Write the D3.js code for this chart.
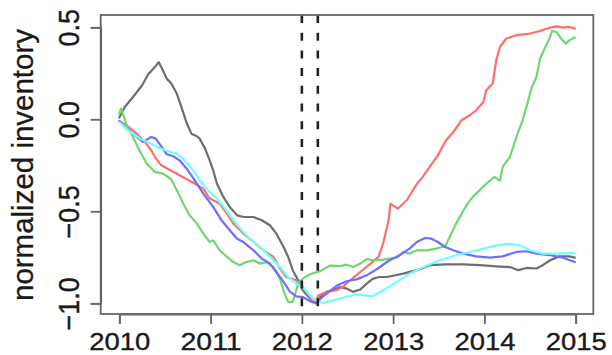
<!DOCTYPE html>
<html><head><meta charset="utf-8">
<script src="https://cdn.jsdelivr.net/npm/d3@7/dist/d3.min.js"></script>
<style>html,body{margin:0;padding:0;background:#fff;}svg{display:block;}</style>
</head><body>
<svg id="chart" width="612" height="355"></svg>
<script>
// ---- data ----
const xTicks = [2010, 2011, 2012, 2013, 2014, 2015];
const yTicks = [-1.0, -0.5, 0.0, 0.5];
const yTickLabels = ["\u22121.0", "\u22120.5", "0.0", "0.5"];
const yLabel = "normalized inventory";
const vLines = [2012.0, 2012.175];

const seriesBlack = [[2010.00,0.01],[2010.06,0.067],[2010.15,0.121],[2010.25,0.185],[2010.32,0.248],[2010.35,0.262],[2010.39,0.284],[2010.43,0.311],[2010.46,0.284],[2010.52,0.221],[2010.57,0.194],[2010.63,0.14],[2010.68,0.067],[2010.74,-0.023],[2010.79,-0.078],[2010.85,-0.092],[2010.88,-0.105],[2010.94,-0.159],[2010.99,-0.223],[2011.03,-0.28],[2011.07,-0.35],[2011.14,-0.422],[2011.21,-0.477],[2011.29,-0.522],[2011.36,-0.531],[2011.47,-0.531],[2011.56,-0.549],[2011.65,-0.576],[2011.72,-0.621],[2011.80,-0.694],[2011.85,-0.748],[2011.90,-0.82],[2011.96,-0.875],[2012.01,-0.929],[2012.09,-0.974],[2012.15,-1.0],[2012.20,-0.966],[2012.27,-0.938],[2012.34,-0.929],[2012.42,-0.911],[2012.49,-0.92],[2012.56,-0.938],[2012.64,-0.925],[2012.71,-0.893],[2012.78,-0.866],[2012.85,-0.857],[2012.93,-0.857],[2013.11,-0.839],[2013.26,-0.82],[2013.40,-0.793],[2013.58,-0.788],[2013.77,-0.788],[2013.95,-0.793],[2014.13,-0.799],[2014.28,-0.803],[2014.37,-0.82],[2014.46,-0.808],[2014.57,-0.811],[2014.64,-0.793],[2014.72,-0.766],[2014.82,-0.745],[2014.93,-0.745],[2014.99,-0.752]];

const seriesRed = [[2010.00,-0.009],[2010.08,-0.033],[2010.17,-0.069],[2010.28,-0.123],[2010.35,-0.168],[2010.39,-0.205],[2010.46,-0.25],[2010.56,-0.277],[2010.66,-0.304],[2010.81,-0.345],[2010.92,-0.377],[2010.99,-0.431],[2011.10,-0.458],[2011.18,-0.513],[2011.25,-0.567],[2011.36,-0.621],[2011.47,-0.667],[2011.58,-0.712],[2011.69,-0.748],[2011.76,-0.811],[2011.83,-0.857],[2011.94,-0.875],[2012.01,-0.911],[2012.09,-0.966],[2012.14,-0.998],[2012.18,-0.957],[2012.27,-0.938],[2012.38,-0.929],[2012.45,-0.91],[2012.53,-0.875],[2012.64,-0.83],[2012.74,-0.79],[2012.84,-0.748],[2012.89,-0.676],[2012.95,-0.549],[2012.97,-0.458],[2013.05,-0.486],[2013.15,-0.44],[2013.26,-0.35],[2013.31,-0.322],[2013.40,-0.259],[2013.49,-0.196],[2013.58,-0.114],[2013.66,-0.069],[2013.75,-0.005],[2013.84,0.022],[2013.91,0.049],[2013.99,0.094],[2014.02,0.158],[2014.09,0.194],[2014.13,0.321],[2014.17,0.393],[2014.24,0.439],[2014.35,0.457],[2014.50,0.466],[2014.61,0.48],[2014.72,0.498],[2014.79,0.505],[2014.86,0.498],[2014.93,0.502],[2014.99,0.493]];

const seriesGreen = [[2010.00,0.031],[2010.02,0.058],[2010.04,0.031],[2010.08,-0.033],[2010.15,-0.096],[2010.23,-0.178],[2010.30,-0.241],[2010.39,-0.286],[2010.48,-0.295],[2010.57,-0.327],[2010.65,-0.404],[2010.70,-0.458],[2010.77,-0.522],[2010.85,-0.567],[2010.92,-0.621],[2010.99,-0.667],[2011.03,-0.658],[2011.10,-0.712],[2011.18,-0.748],[2011.25,-0.776],[2011.32,-0.793],[2011.39,-0.776],[2011.47,-0.766],[2011.54,-0.784],[2011.61,-0.776],[2011.69,-0.803],[2011.76,-0.866],[2011.81,-0.947],[2011.85,-0.993],[2011.90,-0.993],[2011.96,-0.893],[2012.01,-0.866],[2012.09,-0.842],[2012.20,-0.825],[2012.31,-0.795],[2012.42,-0.798],[2012.49,-0.79],[2012.56,-0.803],[2012.64,-0.784],[2012.71,-0.76],[2012.78,-0.766],[2012.89,-0.763],[2013.04,-0.752],[2013.11,-0.721],[2013.18,-0.73],[2013.26,-0.712],[2013.37,-0.712],[2013.47,-0.703],[2013.57,-0.69],[2013.62,-0.64],[2013.69,-0.567],[2013.77,-0.495],[2013.84,-0.44],[2013.91,-0.404],[2014.02,-0.35],[2014.11,-0.313],[2014.17,-0.335],[2014.20,-0.259],[2014.28,-0.205],[2014.35,-0.096],[2014.42,-0.005],[2014.48,0.103],[2014.52,0.176],[2014.57,0.23],[2014.61,0.33],[2014.66,0.384],[2014.72,0.447],[2014.74,0.48],[2014.79,0.474],[2014.84,0.439],[2014.89,0.411],[2014.93,0.429],[2014.99,0.444]];

const seriesBlue = [[2010.00,-0.009],[2010.08,-0.051],[2010.17,-0.087],[2010.26,-0.123],[2010.32,-0.105],[2010.35,-0.096],[2010.40,-0.105],[2010.45,-0.141],[2010.52,-0.19],[2010.59,-0.201],[2010.66,-0.223],[2010.74,-0.27],[2010.81,-0.32],[2010.85,-0.35],[2010.92,-0.404],[2011.03,-0.477],[2011.12,-0.549],[2011.21,-0.603],[2011.29,-0.649],[2011.36,-0.667],[2011.47,-0.712],[2011.56,-0.757],[2011.65,-0.784],[2011.72,-0.83],[2011.80,-0.884],[2011.87,-0.938],[2011.94,-0.962],[2012.01,-0.966],[2012.09,-0.989],[2012.15,-1.0],[2012.27,-0.947],[2012.38,-0.905],[2012.49,-0.88],[2012.60,-0.87],[2012.71,-0.848],[2012.82,-0.815],[2012.96,-0.766],[2013.07,-0.739],[2013.18,-0.703],[2013.26,-0.667],[2013.35,-0.645],[2013.42,-0.649],[2013.49,-0.667],[2013.57,-0.694],[2013.66,-0.712],[2013.77,-0.73],[2013.91,-0.745],[2014.06,-0.752],[2014.20,-0.745],[2014.35,-0.721],[2014.46,-0.717],[2014.57,-0.73],[2014.72,-0.739],[2014.86,-0.752],[2014.99,-0.776]];

const seriesCyan = [[2010.00,-0.015],[2010.12,-0.069],[2010.23,-0.105],[2010.34,-0.132],[2010.45,-0.159],[2010.56,-0.178],[2010.63,-0.186],[2010.70,-0.214],[2010.79,-0.265],[2010.86,-0.313],[2010.88,-0.332],[2010.97,-0.386],[2011.07,-0.431],[2011.16,-0.486],[2011.25,-0.549],[2011.36,-0.612],[2011.47,-0.667],[2011.58,-0.712],[2011.67,-0.757],[2011.76,-0.803],[2011.85,-0.857],[2011.94,-0.893],[2012.01,-0.911],[2012.12,-0.974],[2012.23,-1.0],[2012.34,-0.984],[2012.45,-0.97],[2012.60,-0.951],[2012.78,-0.962],[2012.89,-0.929],[2013.04,-0.884],[2013.18,-0.839],[2013.33,-0.803],[2013.51,-0.766],[2013.69,-0.739],[2013.84,-0.721],[2013.99,-0.703],[2014.13,-0.685],[2014.28,-0.676],[2014.39,-0.685],[2014.50,-0.712],[2014.64,-0.73],[2014.79,-0.73],[2014.90,-0.727],[2014.99,-0.727]];

const seriesList = [seriesBlack, seriesRed, seriesGreen, seriesBlue, seriesCyan];
const seriesColors = ["#6e6e6e", "#ff6e6e", "#6ed86e", "#6e6eff", "#6effff"];

// ---- layout ----
const svg = d3.select("#chart");
const box = {left: 100.7, right: 593.3, top: 15, bottom: 314};
const x = d3.scaleLinear().domain([2010, 2015]).range([119.3, 575.7]);
const y = d3.scaleLinear().domain([-1, 0.5]).range([303.3, 27.3]);
const font = "'Liberation Sans', Arial, Helvetica, sans-serif";
const textColor = "#1a1a1a";

// lines
const line = d3.line().x(d => x(d[0])).y(d => y(d[1]));
const g = svg.append("g");
seriesList.forEach((s, i) => {
  g.append("path").datum(s).attr("d", line)
    .attr("fill", "none").attr("stroke", seriesColors[i])
    .attr("stroke-width", 2.2).attr("stroke-linejoin", "round").attr("stroke-linecap", "round");
});

// dashed vertical lines
svg.selectAll(".vline").data(vLines).enter().append("line")
  .attr("x1", d => x(d)).attr("x2", d => x(d))
  .attr("y1", box.top).attr("y2", box.bottom)
  .attr("stroke", "#222").attr("stroke-width", 2.6).attr("stroke-dasharray", "8,9.7");

// box
svg.append("rect").attr("x", box.left).attr("y", box.top)
  .attr("width", box.right - box.left).attr("height", box.bottom - box.top)
  .attr("fill", "none").attr("stroke", "#666").attr("stroke-width", 1.8);

// x axis
const xAxis = d3.axisBottom(x).tickValues(xTicks).tickSize(10).tickFormat(d3.format("d"));
const gx = svg.append("g").attr("transform", `translate(0,${box.bottom})`).call(xAxis);
gx.select(".domain").attr("stroke", "#666").attr("stroke-width", 1.8);
gx.selectAll(".tick line").attr("stroke", "#666").attr("stroke-width", 1.8);
gx.selectAll(".tick text").attr("y", 35.5).attr("dy", 0)
  .attr("font-family", font).attr("font-size", 24).attr("fill", textColor)
  .attr("stroke", textColor).attr("stroke-width", 0.35)
  .attr("textLength", 61).attr("lengthAdjust", "spacingAndGlyphs");

// y axis
const yAxis = d3.axisLeft(y).tickValues(yTicks).tickSize(10).tickFormat((d, i) => yTickLabels[i]);
const gy = svg.append("g").attr("transform", `translate(${box.left},0)`).call(yAxis);
gy.select(".domain").attr("stroke", "#666").attr("stroke-width", 1.8);
gy.selectAll(".tick line").attr("stroke", "#666").attr("stroke-width", 1.8);
gy.selectAll(".tick text").attr("x", 0).attr("dy", 0)
  .attr("text-anchor", "middle")
  .attr("transform", "translate(-22,0) scale(1.12,1) rotate(-90)")
  .attr("font-family", font).attr("font-size", 27).attr("fill", textColor)
  .attr("stroke", textColor).attr("stroke-width", 0.35);

// y label
svg.append("text").attr("transform", "translate(33,165) rotate(-90)")
  .attr("text-anchor", "middle").attr("font-family", font).attr("font-size", 29)
  .attr("fill", textColor).attr("stroke", textColor).attr("stroke-width", 0.3)
  .attr("textLength", 272).attr("lengthAdjust", "spacingAndGlyphs")
  .text(yLabel);
</script>
</body></html>
